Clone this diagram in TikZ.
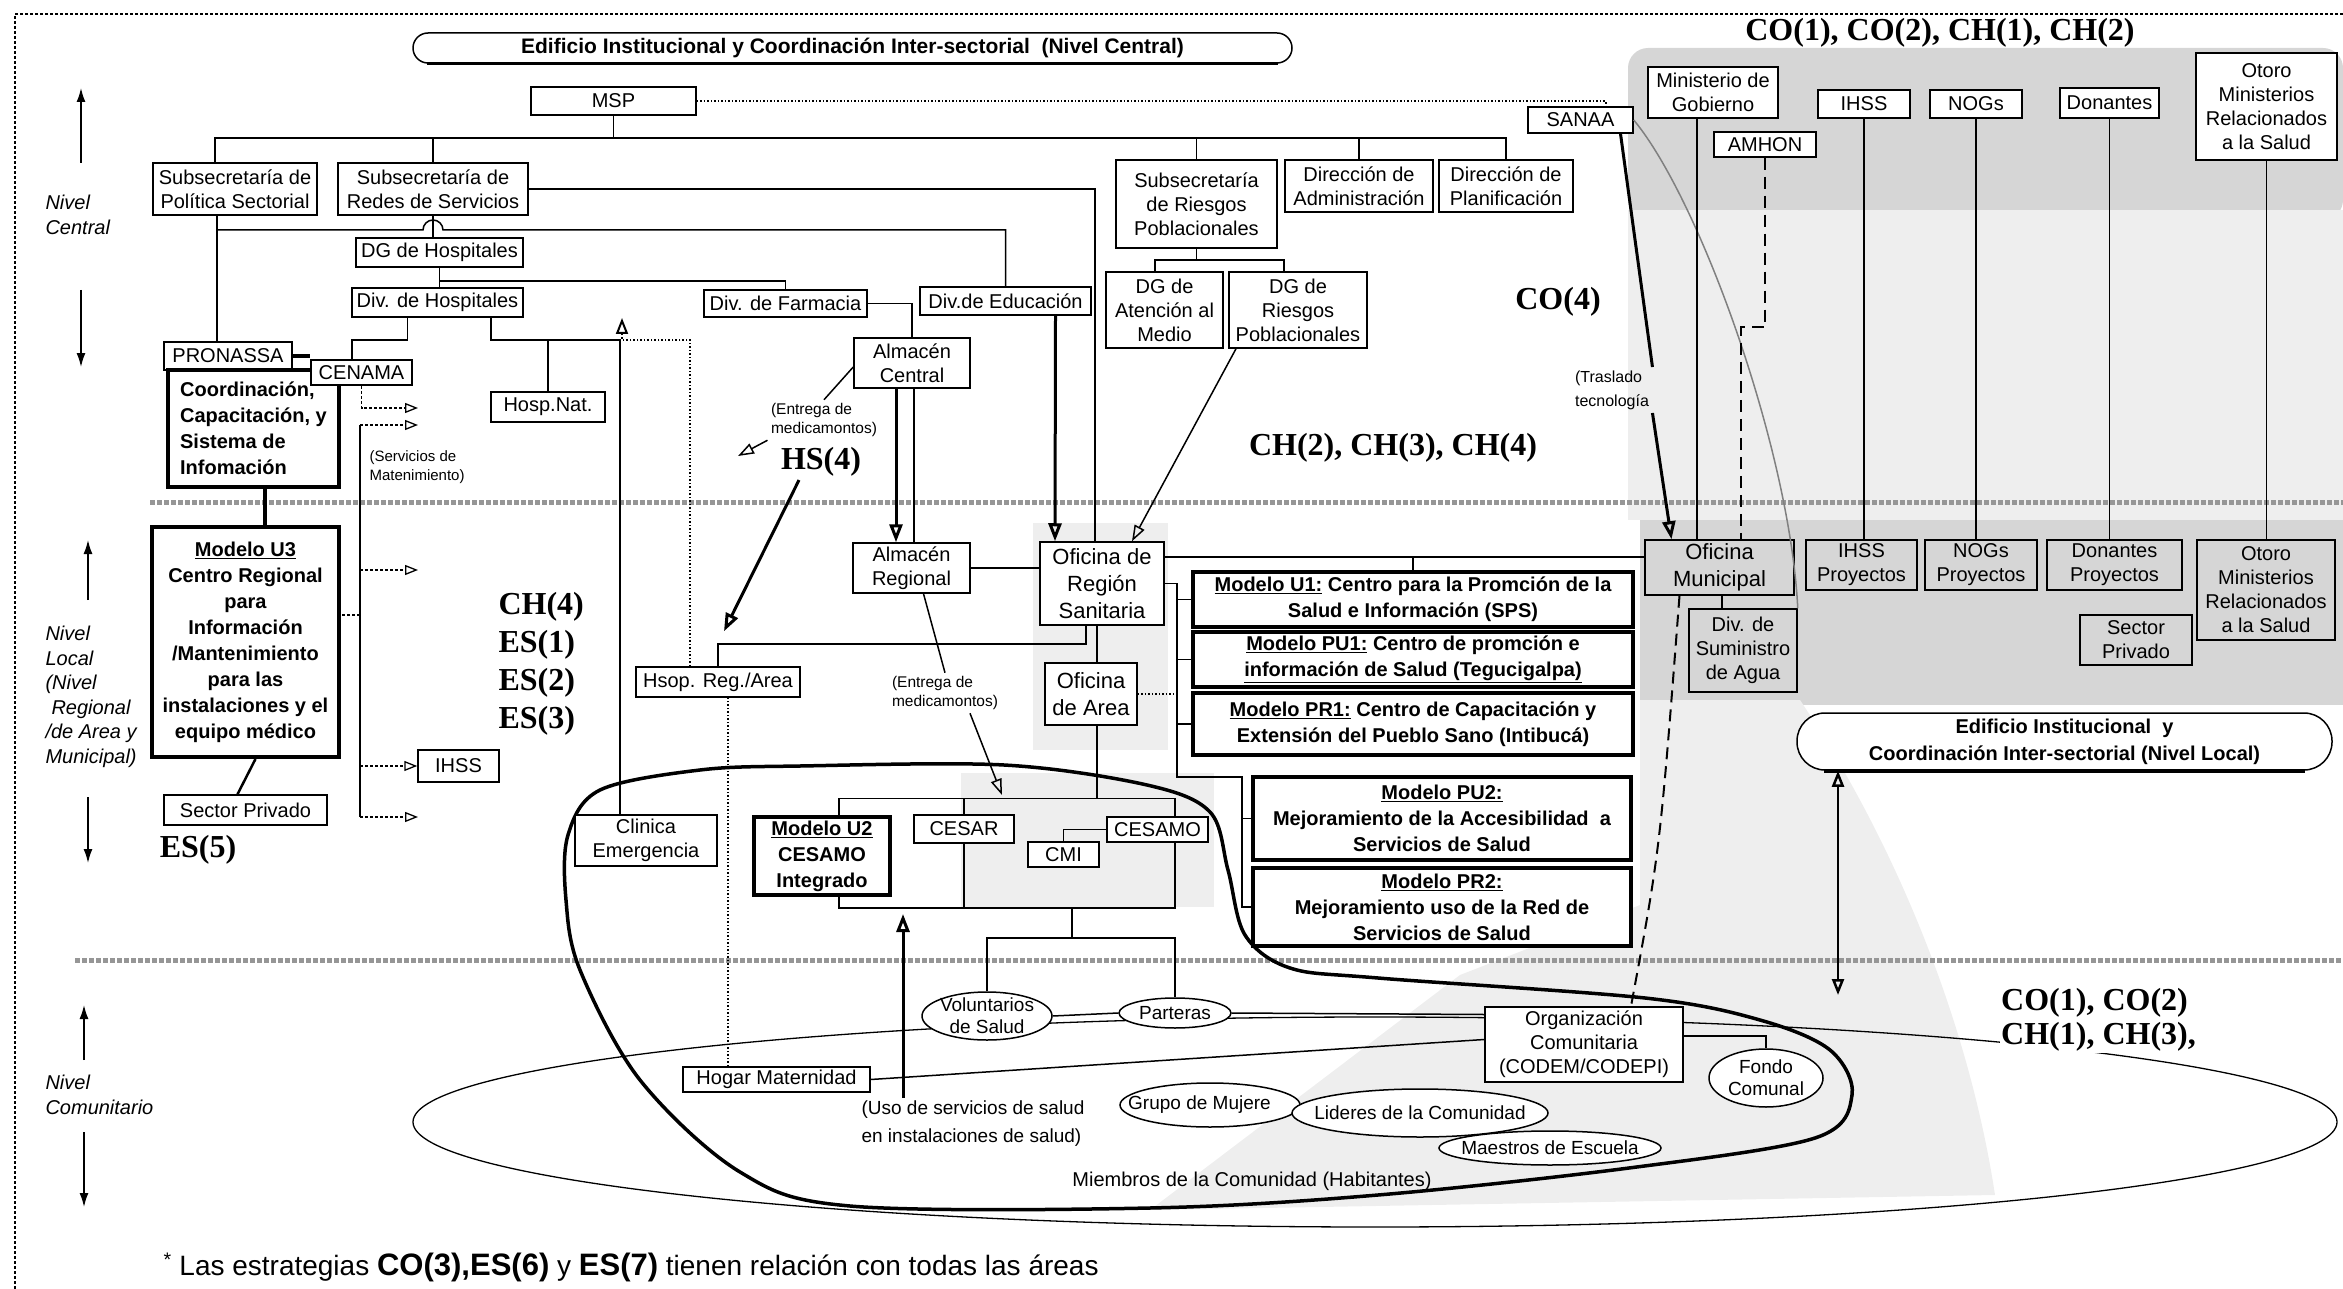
\documentclass[tikz,border=0pt]{standalone}
\usepackage{fontspec}
\setmainfont{Liberation Sans}
\newfontfamily\cofont{Liberation Serif}
\usetikzlibrary{shapes.geometric, arrows.meta, positioning, backgrounds}
\definecolor{stipple}{RGB}{214,214,214}
\definecolor{stipplelight}{RGB}{238,238,238}
\definecolor{bandgray}{RGB}{150,150,150}

\begin{document}
\begin{tikzpicture}[x=1pt, y=-1pt,
    box/.style={draw, line width=1.5pt, fill=white, inner sep=2pt, align=center,
                font=\fontsize{20}{24}\selectfont},
    bigbox/.style={box, font=\fontsize{22}{27}\selectfont},
    modelbox/.style={box, line width=4pt, inner sep=1pt, font=\fontsize{20}{26}\selectfont\bfseries},
    pill/.style={draw, line width=1.5pt, fill=white, align=center, font=\fontsize{21}{27}\selectfont\bfseries},
    oval/.style={draw, ellipse, line width=1.5pt, fill=white, inner sep=0pt},
    ovaltext/.style={align=center, inner sep=0pt, font=\fontsize{19}{22}\selectfont},
    note/.style={align=left, font=\fontsize{15.5}{19}\selectfont},
    lvltext/.style={align=left, anchor=west, font=\fontsize{20}{24.5}\selectfont\itshape},
    codelbl/.style={font=\fontsize{32}{38}\selectfont\cofont\bfseries},
    link/.style={line width=1.5pt},
    longdash/.style={line width=2.5pt, dash pattern=on 12pt off 7pt},
    openarr/.style={line width=1.5pt, -{Triangle[open, length=16pt, width=11pt]}},
    heavyarr/.style={line width=3pt, -{Triangle[open, length=18pt, width=13pt]}},
    servarr/.style={line width=1.3pt, densely dashed, -{Triangle[open, length=13pt, width=10pt]}},
    lvlarr/.style={line width=1.5pt, -{Latex[length=14pt, width=9pt]}},
    band/.style={bandgray, line width=5pt, dash pattern=on 5pt off 2pt},
    clear/.style={fill=none}
]
    % page size
    \useasboundingbox (0,0) rectangle (2343,1289);

    % stippled areas
    \begin{scope}[on background layer]
        \fill[stipple, rounded corners=20pt] (1628,48) rectangle (2343,220);
        \fill[stipplelight] (1628,210) rectangle (2343,520);
        \fill[stipple] (1640,520) rectangle (2343,705);
        \fill[stipplelight] (1640,700) -- (1800,700) .. controls (1900,850) and (1970,1030) .. (1995,1195)
            -- (1150,1210) -- (1460,975) -- (1640,905) -- cycle;
        \fill[stipplelight] (1033,523) rectangle (1168,750);
        \fill[stipplelight] (961,773) rectangle (1214,907);
    \end{scope}

    % frame
    \coordinate (frameTR) at (2343,14);
    \coordinate (frameTL) at (15,14);
    \coordinate (frameBL) at (15,1289);
    \draw[densely dashed, line width=1.2pt] (frameTR) -- (frameTL) -- (frameBL);

    % level bands
    \coordinate (bandAL) at (150,502);
    \coordinate (bandAR) at (2343,502);
    \coordinate (bandBL) at (75,960);
    \coordinate (bandBR) at (2343,960);
    \draw[band] (bandAL) -- (bandAR);
    \draw[band] (bandBL) -- (bandBR);

    % community ellipse and service loop
    \node[draw, ellipse, line width=1.3pt, minimum width=1924pt, minimum height=210pt, inner sep=0pt] (miembros) at (1375,1122) {};
    \node[font=\fontsize{20}{24}\selectfont] (miembrostxt) at (1252,1181) {Miembros de la Comunidad (Habitantes)};
    \draw[line width=3.5pt] plot[smooth cycle, tension=0.55] coordinates {
        (566,900) (568,835) (600,790) (700,770) (800,766) (1004,765) (1147,785) (1210,812)
        (1228,870) (1245,935) (1290,968) (1378,978) (1645,998) (1760,1020) (1830,1050)
        (1852,1095) (1815,1138) (1629,1168) (1378,1195) (1150,1208) (850,1206) (740,1172)
        (640,1080) (580,970)};

    % Nivel Central
    \node[pill, rounded corners=15pt, minimum width=879pt, minimum height=30pt] (edcentral) at (852.5,48)
        {Edificio Institucional y Coordinación Inter-sectorial\ \ (Nivel Central)};
    \draw[line width=3.5pt] ([xshift=15]edcentral.south west) -- ([xshift=-15]edcentral.south east);
    \node[box, minimum width=165pt, minimum height=28pt] (msp) at (613.5,101) {MSP};
    \node[box, minimum width=164pt, minimum height=52pt] (polsec) at (235,189) {Subsecretaría de\\Política Sectorial};
    \node[box, minimum width=190pt, minimum height=52pt] (redes) at (433,189) {Subsecretaría de\\Redes de Servicios};
    \node[box, minimum width=161pt, minimum height=88pt] (riesgos) at (1196.5,204) {Subsecretaría\\de Riesgos\\Poblacionales};
    \node[box, minimum width=148pt, minimum height=52pt] (diradm) at (1359,186) {Dirección de\\Administración};
    \node[box, minimum width=134pt, minimum height=52pt] (dirplan) at (1506,186) {Dirección de\\Planificación};
    \node[box, minimum width=117pt, minimum height=76pt] (dgmedio) at (1164.5,310) {DG de\\Atención al\\Medio};
    \node[box, minimum width=138pt, minimum height=76pt] (dgriesgos) at (1298,310) {DG de\\Riesgos\\Poblacionales};
    \node[box, minimum width=167pt, minimum height=29pt] (dghosp) at (439.5,252.5) {DG de Hospitales};
    \node[box, minimum width=171pt, minimum height=29pt] (divhosp) at (437.5,302.5) {Div. de Hospitales};
    \node[box, minimum width=163pt, minimum height=27pt] (divfarm) at (785.5,303.5) {Div. de Farmacia};
    \node[box, minimum width=171pt, minimum height=28pt] (diveduc) at (1005.5,301) {Div.de Educación};
    \node[box, minimum width=116pt, minimum height=50pt] (almcen) at (912,363) {Almacén\\Central};
    \node[box, minimum width=128pt, minimum height=28pt] (pronassa) at (228,356) {PRONASSA};
    \node[modelbox, minimum width=171pt, minimum height=117pt, align=left] (coord) at (253.5,428.5)
        {Coordinación,\\Capacitación, y\\Sistema de\\Infomación};
    \node[box, minimum width=101pt, minimum height=25pt] (cenama) at (361.5,372.5) {CENAMA};
    \node[box, minimum width=114pt, minimum height=30pt] (hospnat) at (548,407) {Hosp.Nat.};

    % Nivel Local
    \node[modelbox, minimum width=187pt, minimum height=230pt] (modu3) at (245.5,642)
        {\underline{Modelo U3}\\Centro Regional\\para\\Información\\/Mantenimiento\\para las\\instalaciones y el\\equipo médico};
    \node[box, minimum width=163pt, minimum height=30pt] (secpriv) at (245.5,810) {Sector Privado};
    \node[box, minimum width=81pt, minimum height=32pt] (ihssl) at (458.5,766) {IHSS};
    \node[box, minimum width=164pt, minimum height=30pt] (hsop) at (718,682) {Hsop. Reg./Area};
    \node[box, minimum width=142pt, minimum height=51pt] (clinica) at (646,840.5) {Clinica\\Emergencia};
    \node[box, minimum width=117pt, minimum height=50pt] (almreg) at (911.5,568) {Almacén\\Regional};
    \node[bigbox, minimum width=124pt, minimum height=83pt] (ofreg) at (1102,583.5) {Oficina de\\Región\\Sanitaria};
    \node[bigbox, minimum width=92pt, minimum height=62pt] (ofarea) at (1091,694) {Oficina\\de Area};
    \node[modelbox, minimum width=440pt, minimum height=55pt] (modu1) at (1413,599.5)
        {\underline{Modelo U1:} Centro para la Promción de la\\Salud e Información (SPS)};
    \node[modelbox, minimum width=440pt, minimum height=55pt] (modpu1) at (1413,659.5)
        {\underline{Modelo PU1:} Centro de promción e\\\underline{información de Salud (Tegucigalpa)}};
    \node[modelbox, minimum width=440pt, minimum height=62pt] (modpr1) at (1413,724)
        {\underline{Modelo PR1:} Centro de Capacitación y\\Extensión del Pueblo Sano (Intibucá)};
    \node[modelbox, minimum width=378pt, minimum height=83pt] (modpu2) at (1442,818.5)
        {\underline{Modelo PU2:}\\Mejoramiento de la Accesibilidad\ \ a\\Servicios de Salud};
    \node[modelbox, minimum width=378pt, minimum height=78pt] (modpr2) at (1442,907)
        {\underline{Modelo PR2:}\\Mejoramiento uso de la Red de\\Servicios de Salud};
    \node[modelbox, minimum width=136pt, minimum height=78pt] (modu2) at (822,856) {\underline{Modelo U2}\\CESAMO\\Integrado};
    \node[box, minimum width=100pt, minimum height=28pt] (cesar) at (964,829) {CESAR};
    \node[box, minimum width=71pt, minimum height=25pt] (cmi) at (1063.5,854.5) {CMI};
    \node[box, minimum width=101pt, minimum height=25pt] (cesamo) at (1157.5,829.5) {CESAMO};

    % sector side
    \node[box, minimum width=105pt, minimum height=26pt] (sanaa) at (1580.5,120) {SANAA};
    \node[box, minimum width=130pt, minimum height=51pt] (mingob) at (1713,92.5) {Ministerio de\\Gobierno};
    \node[box, minimum width=102pt, minimum height=25pt] (amhon) at (1765,144.5) {AMHON};
    \node[box, minimum width=92pt, minimum height=28pt] (ihssc) at (1864,104) {IHSS};
    \node[box, minimum width=92pt, minimum height=28pt] (nogs) at (1976,104) {NOGs};
    \node[box, minimum width=99pt, minimum height=30pt] (donantes) at (2109.5,103) {Donantes};
    \node[box, minimum width=141pt, minimum height=107pt] (otoroc) at (2266.5,106.5) {Otoro\\Ministerios\\Relacionados\\a la Salud};
    \node[bigbox, clear, minimum width=149pt, minimum height=55pt] (ofmun) at (1719.5,567.5) {Oficina\\Municipal};
    \node[box, clear, minimum width=108pt, minimum height=83pt] (divagua) at (1743,650.5) {Div. de\\Suministro\\de Agua};
    \node[box, clear, minimum width=111pt, minimum height=50pt] (ihssp) at (1861.5,565) {IHSS\\Proyectos};
    \node[box, clear, minimum width=112pt, minimum height=50pt] (nogsp) at (1981,565) {NOGs\\Proyectos};
    \node[box, clear, minimum width=135pt, minimum height=50pt] (donp) at (2114.5,565) {Donantes\\Proyectos};
    \node[box, clear, minimum width=138pt, minimum height=100pt] (otorol) at (2266,590) {Otoro\\Ministerios\\Relacionados\\a la Salud};
    \node[box, clear, minimum width=112pt, minimum height=50pt] (secprivr) at (2136,640) {Sector\\Privado};
    \node[pill, rounded corners=28pt, minimum width=535pt, minimum height=57pt, font=\fontsize{20}{27}\selectfont\bfseries] (edlocal) at (2064.5,741.5)
        {Edificio Institucional\ \ y\\Coordinación Inter-sectorial (Nivel Local)};
    \draw[line width=3.5pt] ([xshift=28]edlocal.south west) -- ([xshift=-28]edlocal.south east);

    % Nivel Comunitario
    \node[box, minimum width=198pt, minimum height=75pt] (orgcom) at (1584,1044.5) {Organización\\Comunitaria\\(CODEM/CODEPI)};
    \node[box, minimum width=187pt, minimum height=25pt] (hogar) at (776.5,1079.5) {Hogar Maternidad};
    \node[oval, minimum width=130pt, minimum height=48pt] (volunt) at (987,1016) {};
    \node[ovaltext] (voluntT) at (volunt) {Voluntarios\\de Salud};
    \node[oval, minimum width=112pt, minimum height=30pt] (parteras) at (1175,1013) {};
    \node[ovaltext] (parterasT) at (parteras) {Parteras};
    \node[oval, minimum width=114pt, minimum height=58pt] (fondo) at (1766,1078) {};
    \node[ovaltext] (fondoT) at (fondo) {Fondo\\Comunal};
    \node[oval, minimum width=180pt, minimum height=44pt] (grupo) at (1210,1105) {};
    \node[oval, minimum width=256pt, minimum height=48pt] (lideres) at (1420,1113) {};
    \node[oval, minimum width=222pt, minimum height=34pt] (maestros) at (1550,1148) {};
    \node[ovaltext, anchor=west] (grupoT) at (1128,1105) {Grupo de Mujere};
    \node[ovaltext] (lideresT) at (lideres) {Lideres de la Comunidad};
    \node[ovaltext] (maestrosT) at (maestros) {Maestros de Escuela};

    % central connectors
    \coordinate (mspbus) at (613.5,138);
    \draw[link] (msp.south) -- (mspbus);
    \draw[link] ([xshift=-20]polsec.north) |- (mspbus) -| (dirplan.north);
    \draw[link] (redes.north) -- (redes.north |- mspbus);
    \draw[link] (riesgos.north) -- (riesgos.north |- mspbus);
    \draw[link] (diradm.north) -- (diradm.north |- mspbus);
    \draw[link] (redes.east) -| ([xshift=-7]ofreg.north);
    \draw[link] (redes.south) -- (redes.south |- dghosp.north);
    \coordinate (polbranch) at (217,230);
    \draw[link] ([xshift=-18]polsec.south) -- ([xshift=-11]pronassa.north);
    \draw[link] (polbranch) -- ++(206,0) arc[start angle=180, end angle=0, radius=10pt] -| (diveduc.north);
    \draw[link] (dghosp.south) |- ([yshift=8]divfarm.north) -- (divfarm.north);
    \draw[link] (dghosp.south) -- (dghosp.south |- divhosp.north);
    \draw[link] (divfarm.east) -| (almcen.north);
    \draw[heavyarr] ([xshift=50]diveduc.south) -- ([xshift=-47]ofreg.north);
    \draw[heavyarr] ([xshift=-16]almcen.south) -- ([xshift=-15.5]almreg.north);
    \draw[link] ([xshift=2]almcen.south) -- ([xshift=2.5]almreg.north);
    \coordinate (riesgosbus) at (1196.5,260);
    \draw[link] (riesgos.south) -- (riesgosbus);
    \draw[link] ([xshift=-9.5]dgmedio.north) |- (riesgosbus) -| ([xshift=-14]dgriesgos.north);
    \draw[openarr] ([xshift=-62]dgriesgos.south) -- ([xshift=30]ofreg.north);

    % medicine delivery
    \node[note] (entregaC) at (824,420) {(Entrega de\\medicamontos)};
    \coordinate (entregaCend) at (738,456);
    \draw[link] ([yshift=-4]almcen.west) -- (entregaC.north);
    \draw[openarr] (entregaC.south west) -- (entregaCend);
    \node[codelbl] (hs4) at (821,462) {HS(4)};
    \draw[heavyarr] ([xshift=-22]hs4.south) -- ([xshift=6,yshift=35]hsop.north);
    \node[note] (entregaR) at (945,693) {(Entrega de\\medicamontos)};
    \coordinate (entregaRend) at (1002,795);
    \draw[link] ([xshift=12]almreg.south) -- (entregaR.north);
    \draw[openarr] ([xshift=25]entregaR.south) -- (entregaRend);
    \draw[link] (hsop.north) |- ([xshift=-16,yshift=-18]ofreg.south) -- ([xshift=-16]ofreg.south);

    % maintenance services
    \draw[link] ([xshift=-30]divhosp.south) |- ([xshift=-9.5,yshift=19]cenama.north) -- ([xshift=-9.5]cenama.north);
    \coordinate (cenamaout) at (418,408);
    \draw[servarr] (cenama.south) |- (cenamaout);
    \coordinate (srvtop) at (360,425);
    \coordinate (srvbot) at (360,817);
    \coordinate (srvA) at (418,425);
    \coordinate (srvB) at (418,570);
    \coordinate (srvC) at (418,817);
    \coordinate (srvU3) at (360,615);
    \draw[link] (srvtop) -- (srvbot);
    \draw[servarr] (srvtop) -- (srvA);
    \draw[servarr] (srvtop |- srvB) -- (srvB);
    \draw[servarr] (srvtop |- ihssl) -- (ihssl.west);
    \draw[servarr] (srvbot) -- (srvC);
    \draw[link, densely dashed] (srvU3) -- (modu3.east |- srvU3);
    \node[note, anchor=west, font=\fontsize{15}{19}\selectfont] (servicios) at (366,467) {(Servicios de\\Matenimiento)};
    \draw[link] ([xshift=53.5]divhosp.south) |- ([xshift=-26,yshift=474]clinica.north) -- ([xshift=-26]clinica.north);
    \draw[link] (hospnat.north) -- ([yshift=51]hospnat.north);
    \coordinate (dotturn) at (622,340);
    \coordinate (dotend) at (622,318);
    \draw[link, dotted, line width=2pt] ([xshift=-48.5]hogar.north) -- ([xshift=10]hsop.south);
    \draw[link, dotted, line width=2pt, -{Triangle[open, length=16pt, width=12pt]}] ([xshift=-28]hsop.north) |- (dotturn) -- (dotend);
    \draw[line width=4pt] ([xshift=11.5]coord.south) -- ([xshift=19.5]modu3.north);
    \draw[line width=2.5pt] ([xshift=10]modu3.south) -- ([xshift=-8]secpriv.north);
    \draw[line width=3.5pt] (pronassa.east) -- (pronassa.east -| cenama.west);

    % local connectors
    \draw[link] (almreg.east) -- (almreg.east -| ofreg.west);
    \draw[link] ([xshift=-5]ofreg.south) -- ([xshift=6]ofarea.north);
    \coordinate (cesarbus) at (1097,799);
    \coordinate (cesarlow) at (1072,907);
    \draw[link] ([xshift=6]ofarea.south) -- (cesarbus);
    \draw[link] ([xshift=17]modu2.north) |- ([xshift=17.5,yshift=18]cesamo.north) -- ([xshift=17.5]cesamo.north);
    \draw[link] (cesar.north) -- (cesar.north |- cesarbus);
    \draw[link] ([xshift=17]modu2.south) |- ([xshift=17.5,yshift=-65]cesamo.south) -- ([xshift=17.5]cesamo.south);
    \draw[link] (cesar.south) -- (cesar.south |- cesarlow);
    \draw[link] (cmi.north) |- (cesamo.west);
    \coordinate (comubus) at (1072,938);
    \draw[link] (cesarlow) -- (comubus);
    \draw[link] (volunt.north) |- (comubus) -| (parteras.north);
    \coordinate (ofrline) at (1413,557);
    \draw[link] ([yshift=26.5]ofreg.east) -- ([yshift=10.5]ofmun.west);
    \draw[link] (modu1.north) -- (ofrline);
    \coordinate (modbusA) at (1177,777);
    \coordinate (modbusB) at (1242,907);
    \draw[link] (ofreg.east) -| (modbusA) -| (modbusB) -- (modpr2.west);
    \draw[link] (modu1.west) -- (modu1.west -| modbusA);
    \draw[link] (modpu1.west) -- (modpu1.west -| modbusA);
    \draw[link] (modpr1.west) -- (modpr1.west -| modbusA);
    \draw[link, dotted] (ofarea.east) -- (ofarea.east -| modbusA);
    \draw[link] (modpu2.west) -- (modpu2.west -| modbusB);

    % inter-sector connectors
    \draw[link, dotted, line width=2pt] (msp.east) -| ([xshift=25]sanaa.north);
    \node[note, font=\fontsize{16}{24}\selectfont] (traslado) at (1612,390) {(Traslado\\tecnología};
    \draw[line width=3pt] ([xshift=40]sanaa.south) -- (traslado.north east);
    \draw[heavyarr] (traslado.south east) -- ([xshift=-48]ofmun.north);
    \draw[link, gray] (sanaa.east) .. controls (1700,200) and (1790,450) .. (divagua.north east);
    \draw[link] ([xshift=-16]mingob.south) -- ([xshift=-22.5]ofmun.north);
    \draw[longdash] (amhon.south) |- ([xshift=21.5,yshift=212]ofmun.north) -- ([xshift=21.5]ofmun.north);
    \draw[link] (ihssc.south) -- (ihssc.south |- ihssp.north);
    \draw[link] (nogs.south) -- (nogs.south |- nogsp.north);
    \draw[link] (donantes.south) -- (donantes.south |- donp.north);
    \draw[link] (otoroc.south) -- (otoroc.south |- otorol.north);
    \draw[link] ([xshift=2.5]ofmun.south) -- ([xshift=-21]divagua.north);
    \draw[longdash, line width=2pt] ([xshift=-40]ofmun.south) .. controls (1660,850) .. ([xshift=47]orgcom.north);
    \coordinate (dblend) at (1838,995);
    \draw[line width=2.5pt, {Triangle[open, length=16pt, width=12pt]}-{Triangle[open, length=16pt, width=12pt]}] ([xshift=-226.5]edlocal.south) -- (dblend);

    % community connectors
    \draw[link] (volunt.east) -- (parteras.west);
    \draw[link] (parteras.east) -- ([yshift=30]orgcom.west);
    \draw[link] (hogar.east) -- ([yshift=5]orgcom.west);
    \draw[link] ([yshift=8.5]orgcom.east) -| (fondo.north);
    \node[font=\fontsize{19}{28}\selectfont, align=left] (uso) at (973,1124) {(Uso de servicios de salud\\en instalaciones de salud)};
    \coordinate (usoend) at (903,914);
    \draw[heavyarr] ([xshift=-70]uso.north) -- (usoend);

    % strategy codes
    \node[codelbl] (co12) at (1940,33) {CO(1), CO(2), CH(1), CH(2)};
    \node[codelbl] (co4) at (1558,302) {CO(4)};
    \node[codelbl] (ch234) at (1393,448) {CH(2), CH(3), CH(4)};
    \node[codelbl, align=left, anchor=west] (ches) at (495,663.5) {CH(4)\\ES(1)\\ES(2)\\ES(3)};
    \node[codelbl] (es5) at (198,850) {ES(5)};
    \node[codelbl, align=left, anchor=west, fill=white, inner sep=1pt, font=\fontsize{32}{34}\selectfont\cofont\bfseries] (cocom) at (2000,1020) {CO(1), CO(2)\\CH(1), CH(3),};

    % level labels
    \node[lvltext] (ncentral) at (42,215) {Nivel\\Central};
    \node[lvltext] (nlocal) at (42,697) {Nivel\\Local\\(Nivel\\\hspace*{6pt}Regional\\/de Area y\\Municipal)};
    \node[lvltext] (ncomun) at (42,1095) {Nivel\\Comunitario};
    \coordinate (cenA) at (81,163);
    \coordinate (cenB) at (81,88);
    \coordinate (cenC) at (81,290);
    \coordinate (cenD) at (81,367);
    \coordinate (locA) at (88,600);
    \coordinate (locB) at (88,540);
    \coordinate (locC) at (88,797);
    \coordinate (locD) at (88,863);
    \coordinate (comA) at (84,1060);
    \coordinate (comB) at (84,1005);
    \coordinate (comC) at (84,1132);
    \coordinate (comD) at (84,1207);
    \draw[lvlarr] (cenA) -- (cenB);
    \draw[lvlarr] (cenC) -- (cenD);
    \draw[lvlarr] (locA) -- (locB);
    \draw[lvlarr] (locC) -- (locD);
    \draw[lvlarr] (comA) -- (comB);
    \draw[lvlarr] (comC) -- (comD);

    % footnote
    \node[anchor=west, font=\fontsize{28}{32}\selectfont] (nota) at (160,1267)
        {\textsuperscript{*} Las estrategias {\fontsize{31}{34}\selectfont\bfseries CO(3),ES(6)} y {\fontsize{31}{34}\selectfont\bfseries ES(7)} tienen relación con todas las áreas};
\end{tikzpicture}
\end{document}
